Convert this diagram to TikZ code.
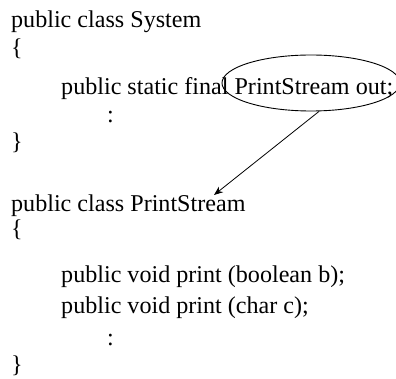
\documentclass[tikz,border=0pt]{standalone}
\usepackage{fontspec}
\setmainfont{Liberation Serif}
\usetikzlibrary{shapes.geometric,arrows.meta}
\tikzset{
  code/.style={anchor=base west,inner sep=0pt,font=\fontsize{24.1}{28}\selectfont},
  oval/.style={draw,ellipse,line width=0.9pt,minimum width=178pt,minimum height=56pt,inner sep=0pt},
  pointer/.style={draw,line width=0.8pt,-{Stealth[length=9pt,width=7pt]}}
}
\begin{document}
\begin{tikzpicture}[x=1pt,y=-1pt]
\useasboundingbox (0,0) rectangle (396,379);
\node[code] (l1) at (11,28) {public class System};
\node[code] (l2) at (11,56) {\{};
\node[code] (l3) at (61,95) {public static final PrintStream out;};
\node[code] (l4) at (107,123) {:};
\node[code] (l5) at (11,150) {\}};
\node[code] (l6) at (11,212) {public class PrintStream};
\node[code] (l7) at (11,237) {\{};
\node[code] (l8) at (61,283) {public void print (boolean b);};
\node[code] (l9) at (61,313) {public void print (char c);};
\node[code] (l10) at (107,345) {:};
\node[code] (l11) at (11,372) {\}};
\node[oval] (ell) at (311,83) {};
\coordinate (tip) at (214,195);
\draw[pointer] (ell.-74) -- (tip);
\end{tikzpicture}
\end{document}
